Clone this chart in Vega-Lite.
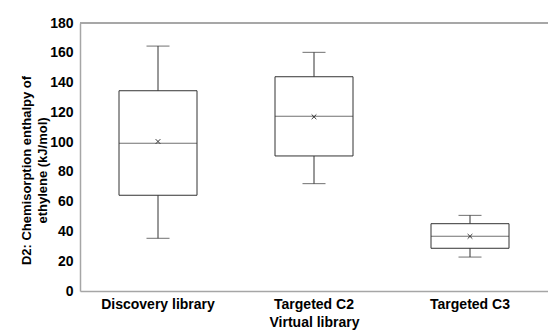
{
  "$schema": "https://vega.github.io/schema/vega-lite/v6.json",
  "width": 468,
  "height": 268,
  "autosize": "none",
  "padding": {"left": 80, "top": 23, "right": 0, "bottom": 43},
  "background": "white",
  "config": {
    "view": {"stroke": null},
    "font": "Liberation Sans",
    "axisY": {"labelOverlap": false, "tickCount": 9}
  },
  "data": {
    "values": [
      {"library": "Discovery library", "lower": 35.4, "q1": 64.3, "median": 99.2, "mean": 100.4, "q3": 134.5, "upper": 164.5},
      {"library": "Targeted C2", "lower": 72.1, "q1": 90.7, "median": 117.3, "mean": 117.0, "q3": 143.9, "upper": 160.3},
      {"library": "Targeted C3", "lower": 22.8, "q1": 28.7, "median": 36.7, "mean": 36.7, "q3": 45.2, "upper": 50.8}
    ]
  },
  "layer": [
    {
      "mark": {"type": "rule", "color": "#333333", "strokeWidth": 1},
      "encoding": {
        "x": {
          "field": "library", "type": "nominal", "sort": null,
          "scale": {"paddingInner": 0, "paddingOuter": 0},
          "axis": {"labelAngle": 0, "labelPadding": 6, "title": "Virtual library", "titlePadding": 4, "ticks": false, "domainColor": "#a6a6a6", "domainWidth": 1.5, "labelFont": "Liberation Sans", "labelFontSize": 14, "labelFontWeight": "bold", "labelColor": "#000000", "titleFont": "Liberation Sans", "titleFontSize": 14, "titleFontWeight": "bold", "titleColor": "#000000"}
        },
        "y": {
          "field": "lower", "type": "quantitative",
          "scale": {"domain": [0, 180], "nice": false},
          "axis": {
            "tickCount": 9,
            "ticks": false,
            "grid": false,
            "domain": true,
            "domainColor": "#a6a6a6",
            "domainWidth": 1.5,
            "labelOverlap": false,
            "labelBound": false,
            "labelSeparation": 0,
            "labelPadding": 7,
            "labelFont": "Liberation Sans",
            "labelFontSize": 14,
            "labelFontWeight": "bold",
            "labelColor": "#000000",
            "title": ["D2: Chemisorption enthalpy of", "ethylene (kJ/mol)"],
            "titleFont": "Liberation Sans",
            "titleFontSize": 13,
            "titleFontWeight": "bold",
            "titleColor": "#000000",
            "titleLineHeight": 16,
            "titleAngle": -90,
            "titleAlign": "center",
            "titleBaseline": "top",
            "titleX": -60,
            "titleY": 147
          }
        },
        "y2": {"field": "upper"}
      }
    },
    {
      "mark": {"type": "bar", "fill": "white", "stroke": "#333333", "strokeWidth": 1, "size": 78},
      "encoding": {
        "x": {"field": "library", "type": "nominal", "sort": null},
        "y": {"field": "q1", "type": "quantitative"},
        "y2": {"field": "q3"}
      }
    },
    {
      "mark": {"type": "tick", "color": "#333333", "size": 78, "thickness": 1},
      "encoding": {
        "x": {"field": "library", "type": "nominal", "sort": null},
        "y": {"field": "median", "type": "quantitative"}
      }
    },
    {
      "mark": {"type": "tick", "color": "#333333", "size": 23, "thickness": 1},
      "encoding": {
        "x": {"field": "library", "type": "nominal", "sort": null},
        "y": {"field": "lower", "type": "quantitative"}
      }
    },
    {
      "mark": {"type": "tick", "color": "#333333", "size": 23, "thickness": 1},
      "encoding": {
        "x": {"field": "library", "type": "nominal", "sort": null},
        "y": {"field": "upper", "type": "quantitative"}
      }
    },
    {
      "mark": {"type": "point", "shape": "M-1,-1L1,1M-1,1L1,-1", "filled": false, "stroke": "#333333", "strokeWidth": 1, "size": 22, "opacity": 1},
      "encoding": {
        "x": {"field": "library", "type": "nominal", "sort": null},
        "y": {"field": "mean", "type": "quantitative"}
      }
    },
    {
      "mark": {"type": "rule", "color": "#a6a6a6", "strokeWidth": 1.5},
      "encoding": {"y": {"datum": 180, "type": "quantitative"}}
    }
  ]
}
